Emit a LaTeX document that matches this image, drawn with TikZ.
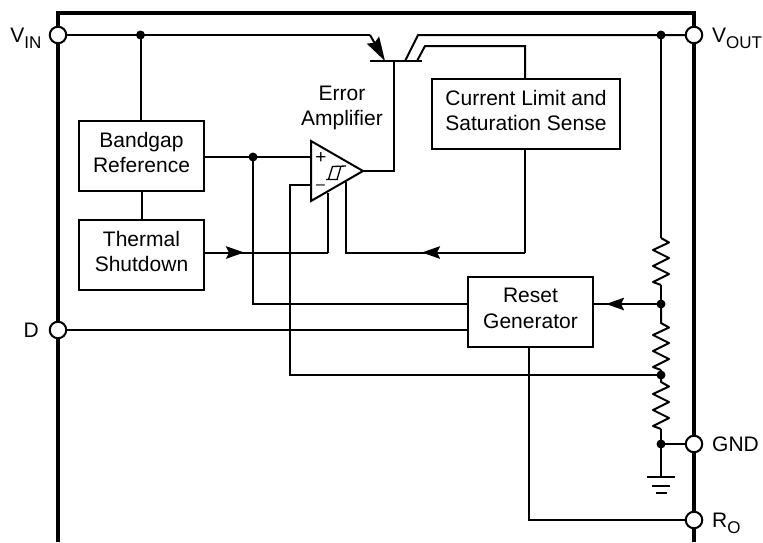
\documentclass[tikz,border=0pt]{standalone}
\usepackage{fontspec}
\setmainfont{Liberation Sans}
\usetikzlibrary{arrows.meta}
\newcommand\lowsub[1]{\raisebox{-6pt}{\fontsize{17}{17}\selectfont #1}}
\newcommand\lift{\rule[-7pt]{0pt}{0pt}}
\tikzset{
  x=1pt,y=-1pt,
  wire/.style={line width=2pt,line join=miter},
  frameline/.style={line width=3.5pt,line join=miter},
  blockbox/.style={draw,line width=2pt,anchor=north west,inner sep=0pt,align=center,
    font=\fontsize{21}{25.5}\selectfont},
  pin/.style={circle,draw,line width=2pt,fill=white,minimum size=16.5pt,inner sep=0pt},
  dot/.style={circle,fill=black,minimum size=9pt,inner sep=0pt},
  txt/.style={inner sep=0pt,align=center,font=\fontsize{21}{25.5}\selectfont},
  flow/.style={wire,-{Stealth[length=18pt,width=12.5pt,inset=3pt]}},
  bigflow/.style={wire,-{Stealth[length=24pt,width=14pt,inset=3pt]}},
  sign/.style={inner sep=0pt,font=\fontsize{19}{19}\selectfont}
}
\newcommand\zigzag[3]{% from coordinate #1 at top, straight run #2, end named #3
  \draw[wire,line join=round] (#1) -- ++(0,#2)
    -- ++(8,4.5) -- ++(-16,7.5) -- ++(16,8) -- ++(-16,8) -- ++(16,8) -- ++(-16,8) -- ++(8,3) coordinate (#3);}
\begin{document}
\begin{tikzpicture}
\useasboundingbox (0,0) rectangle (763,542);
% package outline
\draw[frameline] (58,542) -- (58,13) -- (694,13) -- (694,542);

% blocks
\node[blockbox,minimum width=125pt,minimum height=70pt] (bandgap) at (78,120) {Bandgap\\Reference\lift};
\node[blockbox,minimum width=125pt,minimum height=70pt] (thermal) at (78,219) {Thermal\\Shutdown\lift};
\node[blockbox,minimum width=188pt,minimum height=70pt] (limit) at (431,78) {Current Limit and\\Saturation Sense\lift};
\node[blockbox,minimum width=125pt,minimum height=70pt] (reset) at (467,276) {Reset\\Generator\lift};

% named points
\coordinate (jvin) at (140.5,35);
\coordinate (jvout) at (661,35);
\coordinate (jplus) at (253,157);
\coordinate (jr1) at (661,304);
\coordinate (jr2) at (661,375);
\coordinate (jgnd) at (661,444);
\coordinate (gndtop) at (661,477);
\coordinate (oA) at (311,141);
\coordinate (oB) at (311,201);
\coordinate (oC) at (363,171);
\coordinate (base) at (394,61);
\coordinate (tipE) at (385,61);
\coordinate (collA) at (405,61);
\coordinate (collB) at (417,61);
\coordinate (inPlus) at (311,157);
\coordinate (inMinus) at (311,185);
\coordinate (fbA) at (328,252.5);
\coordinate (fbB) at (346,252.5);
\coordinate (fbC) at (525,252.5);
\coordinate (tipT) at (244,252.5);
\coordinate (tipL) at (422,252.5);
\coordinate (tipR) at (606,304);
\coordinate (roCorner) at (529,520);

% supply and transistor
\draw[wire] (58,35) -- (jvin) -- (370,35);
\draw[bigflow] (370,35) -- (tipE);
\draw[wire] (370,61) -- (422,61);
\draw[wire] (collA) -- (418,35) -- (jvout) -- (694,35);
\draw[wire] (collB) -- (425,46) -- (525,46) -- (525,78);
\draw[wire] (jvin) -- (bandgap.north -| jvin);
\draw[wire] (bandgap) -- (thermal);

% amplifier
\draw[wire,line join=miter,fill=white] (oA) -- (oB) -- (oC) -- cycle;
\draw[wire] (oC) -- (394,171) -- (base);
\draw[wire] (bandgap.east |- jplus) -- (jplus) -- (inPlus);
\draw[wire] (jplus) -- (253,304) -- (reset.west |- jr1);
\draw[wire] (inMinus) -- (290,185) -- (290,375) -- (jr2);
\draw[wire] (328,193) -- (fbA);
\draw[wire] (thermal.east |- fbA) -- (fbA);
\draw[flow] (thermal.east |- fbA) -- (tipT);
\draw[wire] (346,182) -- (fbB) -- (fbC);
\draw[flow] (fbC) -- (tipL);
\draw[wire] (limit.south -| fbC) -- (fbC);

% hysteresis symbol and inputs
\draw[line width=1.3pt] (326,179.5) -- (338,179.5) (328.5,179.5) -- (332.5,166.5) -- (346,166) (337,179.5) -- (341,166);
\node[sign] (plus) at (321,158) {+};
\node[sign,font=\fontsize{16}{16}\selectfont] (minus) at (320.5,187) {–};
\node[txt] (ampl) at (342,108) {Error\\Amplifier};

% divider
\draw[wire] (jvout) -- (661,238);
\zigzag{661,238}{0}{r1end}
\draw[wire] (r1end) -- (jr1);
\zigzag{jr1}{19}{r2end}
\draw[wire] (r2end) -- (jr2);
\zigzag{jr2}{7}{r3end}
\draw[wire] (r3end) -- (jgnd) -- (gndtop);
\draw[wire] (647,477) -- (675,477) (652,485.5) -- (670,485.5) (656,493) -- (667,493);
\draw[wire] (jgnd) -- (694,444);
\draw[wire] (jr1) -- (reset.east |- jr1);
\draw[flow] (jr1) -- (tipR);

% outputs of reset generator
\draw[wire] (58,330) -- (reset.west |- 0,330);
\draw[wire] (reset.south -| roCorner) -- (roCorner) -- (694,520);

% junctions
\foreach \p/\n in {jvin/dvin,jvout/dvout,jplus/dplus,jr1/dr1,jr2/dr2,jgnd/dgnd}
  \node[dot] (\n) at (\p) {};

% pins
\node[pin] (pvin) at (58,35) {};
\node[pin] (pd) at (58,330) {};
\node[pin] (pvout) at (694,35) {};
\node[pin] (pgnd) at (694,444) {};
\node[pin] (pro) at (694,520) {};

% pin labels
\node[txt,anchor=base east] (lvin) at (41.5,42) {V\lowsub{IN}};
\node[txt,anchor=base east] (ld) at (39,337) {D};
\node[txt,anchor=base west] (lvout) at (712,42) {V\lowsub{OUT}};
\node[txt,anchor=base west] (lgnd) at (712,451) {GND};
\node[txt,anchor=base west] (lro) at (712,527) {R\lowsub{O}};
\end{tikzpicture}
\end{document}
